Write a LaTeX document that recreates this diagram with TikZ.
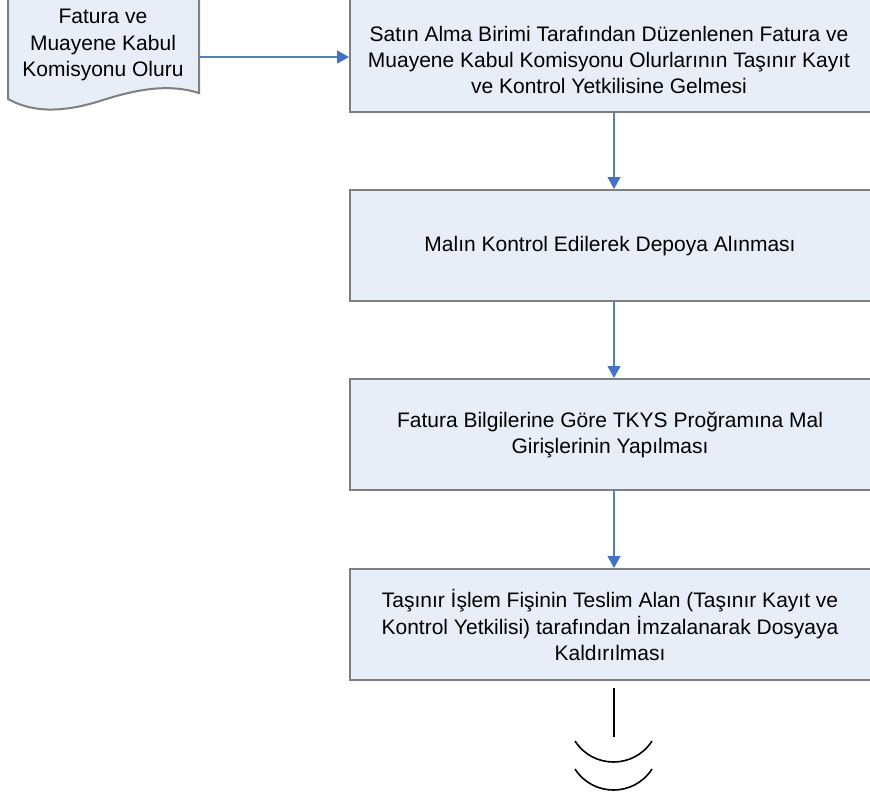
\documentclass[tikz,border=0pt]{standalone}
\usepackage{fontspec}
\setmainfont{Liberation Sans}
\usetikzlibrary{arrows.meta}
\definecolor{boxfill}{HTML}{E8EEF7}
\definecolor{boxline}{HTML}{7F7F7F}
\definecolor{arrline}{HTML}{4F81BD}
\definecolor{arrtip}{HTML}{4472C4}
\tikzset{
  stepbox/.style={draw=boxline, fill=boxfill, line width=2pt, minimum width=528pt, minimum height=111pt, inner sep=0pt},
  txt/.style={align=center, font=\fontsize{21}{26.3}\selectfont, inner sep=0pt},
  flow/.style={draw=arrline, line width=1.3pt, -{Triangle[length=12pt,width=13pt,fill=arrtip,color=arrtip]}},
  endline/.style={draw=black, line width=1.6pt}
}
\begin{document}
\begin{tikzpicture}[x=1pt,y=-1pt]
\useasboundingbox (0,0) rectangle (870,801);
\begin{scope}
\clip (0,0) rectangle (870,801);
% document shape
\path[draw=boxline, fill=boxfill, line width=2pt]
  (8,-10) -- (8,99) .. controls (28,110) and (55,115) .. (100,101)
  .. controls (140,88) and (170,84) .. (199,93) -- (199,-10) -- cycle;
\node[txt] (doc) at (103,45) {Fatura ve\\Muayene Kabul\\Komisyonu Oluru};
\coordinate (docr) at (199,57);
% boxes
\node[stepbox, minimum height=122pt] (b1) at (614,51) {};
\node[txt] (t1) at (609,60) {Satın Alma Birimi Tarafından Düzenlenen Fatura ve\\Muayene Kabul Komisyonu Olurlarının Taşınır Kayıt\\ve Kontrol Yetkilisine Gelmesi};
\node[stepbox] (b2) at (614,245.5) {};
\node[txt] (t2) at (610,246) {Malın Kontrol Edilerek Depoya Alınması};
\node[stepbox] (b3) at (614,434.5) {};
\node[txt] (t3) at (610,435) {Fatura Bilgilerine Göre TKYS Proğramına Mal\\Girişlerinin Yapılması};
\node[stepbox] (b4) at (614,624.5) {};
\node[txt] (t4) at (610,625) {Taşınır İşlem Fişinin Teslim Alan (Taşınır Kayıt ve\\Kontrol Yetkilisi) tarafından İmzalanarak Dosyaya\\Kaldırılması};
\end{scope}
% connectors
\draw[flow] (docr) -- (b1.west |- docr);
\draw[flow] (b1.south) -- (b2.north);
\draw[flow] (b2.south) -- (b3.north);
\draw[flow] (b3.south) -- (b4.north);
% off-page end
\coordinate (e1) at (614,688);
\coordinate (e2) at (614,737);
\draw[endline] (e1) -- (e2);
\draw[endline] (575,741) .. controls (593,769) and (634,769) .. (652,741);
\draw[endline] (575,769) .. controls (593,797) and (634,797) .. (652,769);
\end{tikzpicture}
\end{document}
